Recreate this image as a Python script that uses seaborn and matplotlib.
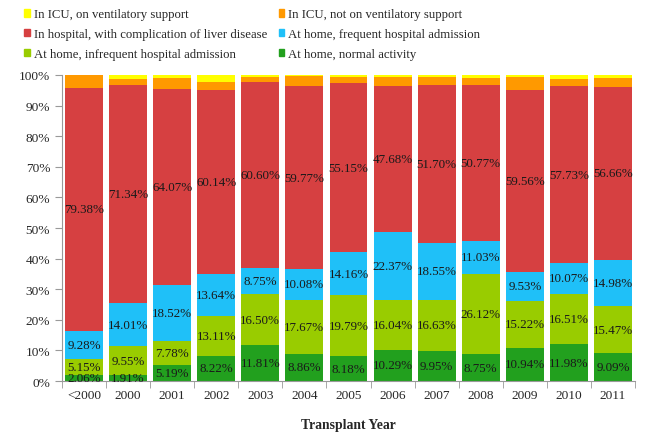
"""
Stacked status-at-transplant chart by transplant year
"""

import pandas as pd
import matplotlib.pyplot as plt
import seaborn as sns
import numpy as np

# ==============================================================================
# DATA
# ==============================================================================
years = ['<2000', '2000', '2001', '2002', '2003', '2004', '2005',
         '2006', '2007', '2008', '2009', '2010', '2011']

home_normal = [2.06, 1.91, 5.19, 8.22, 11.81, 8.86, 8.18, 10.29, 9.95, 8.75, 10.94, 11.98, 9.09]
home_infrequent = [5.15, 9.55, 7.78, 13.11, 16.50, 17.67, 19.79, 16.04, 16.63, 26.12, 15.22, 16.51, 15.47]
home_frequent = [9.28, 14.01, 18.52, 13.64, 8.75, 10.08, 14.16, 22.37, 18.55, 11.03, 9.53, 10.07, 14.98]
hospital = [79.38, 71.34, 64.07, 60.14, 60.60, 59.77, 55.15, 47.68, 51.70, 50.77, 59.56, 57.73, 56.66]
# (not labelled)
icu_no_vent = [4.13, 2.00, 3.37, 2.61, 1.74, 3.20, 2.20, 3.00, 2.45, 2.30, 4.10, 2.50, 2.80]
icu_vent = [0.00, 1.19, 1.20, 2.28, 0.60, 0.42, 0.52, 0.62, 0.72, 1.03, 0.65, 1.21, 1.00]

series_names = ['At home, normal activity',
                'At home, infrequent hospital admission',
                'At home, frequent hospital admission',
                'In hospital, with complication of liver disease',
                'In ICU, not on ventilatory support',
                'In ICU, on ventilatory support']
colors = ['#22A01E', '#99CC00', '#1FC0F8', '#D64041', '#FF9900', '#FFFF00']

labelled = 4  # first four series carry value labels

sns.set_style('ticks')
plt.rcParams['font.family'] = ['Liberation Serif', 'DejaVu Serif']

df = pd.DataFrame(dict(zip(series_names,
                           [home_normal, home_infrequent, home_frequent,
                            hospital, icu_no_vent, icu_vent])), index=years)

fig = plt.figure(figsize=(6.54, 4.39), dpi=100)
ax = fig.add_axes([0.0948, 0.1298, 0.8762, 0.6971])

df.plot(kind='bar', stacked=True, ax=ax, color=colors, width=0.86,
        edgecolor='none', linewidth=0, legend=False)

# value labels
for i in range(len(years)):
    cumulative = 0
    for j, col in enumerate(df.columns):
        val = df.iloc[i, j]
        if j < labelled:
            ax.text(i, cumulative + val / 2, f'{val:.2f}%', ha='center', va='center',
                    fontsize=9.4, color='#1a1a1a')
        cumulative += val

ax.set_xlim(-0.5, len(years) - 0.5)
ax.set_ylim(0, 100)
ax.set_yticks(np.arange(0, 101, 10))
ax.set_yticklabels([f'{v}%' for v in range(0, 101, 10)], fontsize=9.6)
ax.set_xticks(range(len(years)))
ax.set_xticklabels(years, rotation=0, fontsize=9.6)
ax.set_xticks(np.arange(-0.5, len(years), 1), minor=True)
ax.tick_params(axis='x', which='major', length=0, pad=6)
ax.tick_params(axis='x', which='minor', length=5, color='#999999')
ax.tick_params(axis='y', length=5, color='#999999')
for s in ['top', 'right']:
    ax.spines[s].set_visible(False)
for s in ['left', 'bottom']:
    ax.spines[s].set_color('#999999')
ax.set_xlabel('Transplant Year', fontsize=9.8, fontweight='bold', labelpad=12)

# legend: two columns, row-wise order as in the reference
handles = [plt.Rectangle((0, 0), 1, 1, color=c) for c in colors]
order = [5, 3, 1, 4, 2, 0]
fig.legend([handles[k] for k in order], [series_names[k] for k in order],
           loc='upper left', bbox_to_anchor=(0.037, 0.979), ncol=2, frameon=False,
           fontsize=9.2, handlelength=0.45, handleheight=0.55, handletextpad=0.3,
           columnspacing=0.9, labelspacing=0.62, borderpad=0, borderaxespad=0)

plt.savefig('out.png', dpi=100)
plt.close()
